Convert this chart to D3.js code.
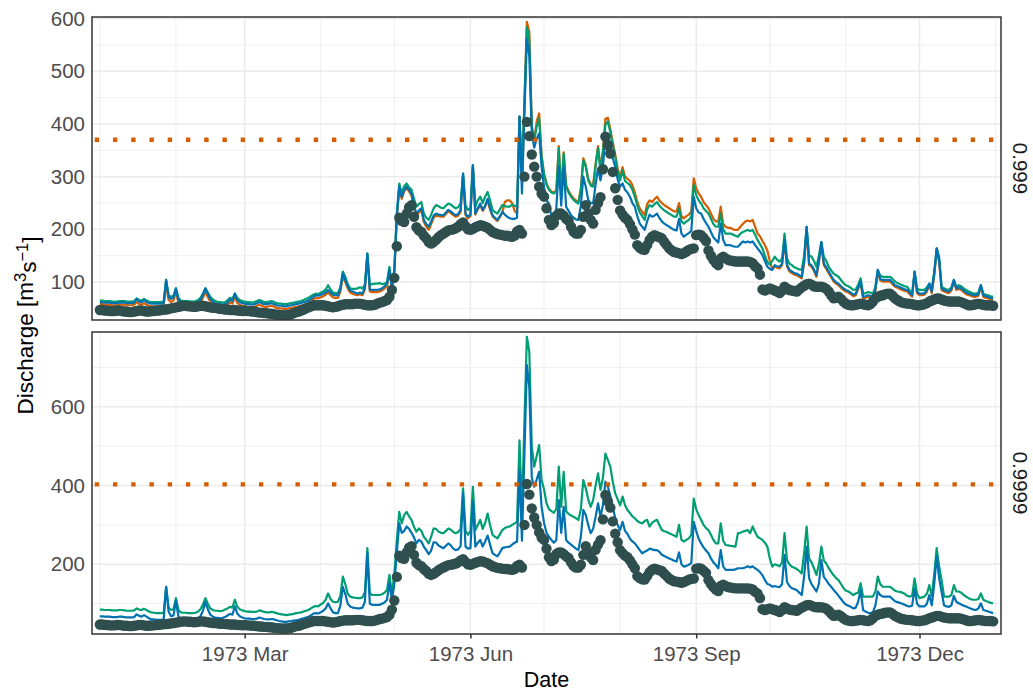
<!DOCTYPE html>
<html>
<head>
<meta charset="utf-8">
<script src="https://cdn.jsdelivr.net/npm/d3@7"></script>
<style>
  html, body { margin: 0; padding: 0; background: #ffffff; }
  svg { display: block; font-family: "Liberation Sans", Arial, Helvetica, sans-serif; }
</style>
</head>
<body>
<svg id="chart" width="1033" height="693"></svg>
<script>
// Daily discharge for 1973 (Jan 1 .. Dec 31), m3/s.
// Observed record, one value per day, written month by month.
const observed = [
  47,47,46,46,45,45,45,46,46,45,44,44,43,43,44,45,46,46,45,44,44,45,45,46,46,47,48,48,49,50,51,            // Jan
  52,53,54,55,55,54,54,53,53,54,55,55,54,53,52,51,51,50,49,49,48,48,47,47,47,46,46,45,                    // Feb
  46,45,45,44,44,43,42,42,41,41,40,40,39,38,38,37,37,37,38,39,41,43,44,46,48,50,52,54,56,56,56,            // Mar
  56,56,55,54,53,52,53,54,56,57,58,58,58,58,59,59,59,58,57,56,56,56,57,59,61,62,64,66,72,85,               // Apr
  108,168,222,216,214,230,242,246,224,204,198,195,188,183,176,173,176,180,185,189,192,195,198,199,200,202,205,210,213,206,200, // May
  199,201,204,206,208,207,205,203,199,195,193,191,190,189,188,188,187,186,188,196,199,192,300,404,377,342,319,300,281,268, // Jun
  262,240,218,208,212,226,230,230,226,220,216,205,196,192,192,199,224,246,230,218,211,237,250,261,314,376,360,344,309,278,256, // Jul
  236,228,222,218,210,200,190,170,165,162,161,170,180,186,189,187,185,183,176,170,164,160,157,156,155,153,155,158,161,163,164, // Aug
  189,190,189,184,178,160,150,142,136,132,145,148,145,142,141,140,139,139,139,139,139,139,138,136,130,126,114,86,84,86, // Sep
  88,86,84,82,79,84,91,88,85,84,83,82,86,90,93,96,97,95,92,91,91,91,90,87,82,75,69,70,72,68,63,            // Oct
  59,57,56,56,57,58,59,58,57,56,58,63,69,72,74,75,77,78,78,74,69,66,63,61,60,59,59,58,57,56,               // Nov
  56,57,58,60,63,65,67,69,69,67,65,64,63,63,63,63,63,62,60,58,56,56,57,58,59,58,57,56,56,56,55             // Dec
];

// Simulated series, quantile 0.999
const simA999 = [ // orange
  58,58,57,57,57,56,56,56,57,57,57,56,56,56,57,62,58,57,60,57,55,54,54,54,54,54,55,98,66,62,65,
  82,60,56,55,55,55,54,54,55,57,61,70,82,71,62,58,55,53,53,52,53,56,62,59,72,60,57,55,
  54,53,53,52,53,55,57,55,53,53,54,55,53,51,50,50,49,49,50,51,52,53,54,55,57,58,60,63,67,70,69,
  71,73,76,80,75,71,70,70,82,112,100,88,80,78,76,75,77,75,86,150,82,81,81,81,82,84,88,92,120,88,
  120,222,278,258,272,278,272,264,240,226,232,236,214,205,199,210,222,226,225,224,224,229,234,231,227,224,226,233,302,227,221,
  225,318,228,238,246,235,243,255,238,225,220,216,223,231,252,255,255,250,235,230,414,290,440,594,575,395,369,405,420,340,
  305,287,277,272,270,274,358,268,346,284,273,265,259,255,252,278,335,322,296,286,284,324,358,316,350,410,412,390,365,342,315,
  300,318,300,296,292,284,270,252,240,233,227,248,255,252,257,262,255,250,246,243,240,237,234,234,250,225,221,225,228,234,297,
  278,268,262,252,246,240,230,220,215,215,243,210,205,203,203,200,199,199,205,210,215,217,215,218,205,192,187,178,170,160,
  140,125,130,127,126,132,178,130,120,117,114,113,110,107,137,200,132,129,121,110,137,172,132,125,117,109,101,97,94,89,85,
  82,80,77,73,75,87,98,69,70,72,71,70,83,120,103,101,101,101,101,96,91,89,87,85,83,82,77,72,117,79,
  75,75,76,82,94,79,112,160,138,85,82,80,79,84,101,85,87,85,81,77,75,74,72,72,74,91,72,70,69,67,66
];
const simB999 = [ // green
  65,65,64,64,64,63,63,63,64,64,64,63,63,63,64,69,66,65,68,65,63,62,62,62,62,62,63,104,75,72,74,
  88,70,65,64,64,64,63,63,64,66,70,78,88,80,72,67,64,62,62,61,62,65,70,68,78,70,66,64,
  63,62,62,61,62,64,66,64,62,62,63,64,62,60,59,59,58,58,59,60,61,62,63,64,66,68,70,73,76,78,77,
  80,82,86,94,86,80,79,79,90,120,110,96,88,87,87,88,90,88,95,154,95,96,97,97,98,96,97,100,129,91,
  123,230,287,268,282,287,280,275,258,243,248,252,230,222,218,228,240,246,244,241,240,245,249,247,243,240,242,250,306,245,237,
  240,322,243,255,262,250,262,271,255,237,233,230,238,246,244,243,243,247,245,243,414,306,440,584,560,395,369,395,410,338,
  305,285,275,270,268,272,354,265,344,281,270,262,256,252,249,275,331,319,293,283,281,320,354,312,345,398,405,385,360,338,310,
  293,312,292,288,284,275,262,245,232,225,218,238,246,243,248,252,245,240,236,233,230,227,224,224,240,215,211,215,218,224,284,
  265,255,249,240,235,230,220,210,205,205,230,200,192,192,192,190,188,186,192,195,197,199,197,199,190,180,172,164,150,138,
  133,140,148,142,139,145,192,145,135,132,128,126,124,123,150,205,151,148,140,129,150,176,148,140,129,122,116,113,110,104,98,
  94,92,89,85,86,95,107,78,79,81,80,78,90,123,112,110,110,110,110,106,101,98,96,94,92,91,84,78,120,88,
  85,85,85,90,97,88,120,164,148,91,88,86,85,90,104,91,94,92,88,85,82,80,78,78,80,94,78,76,75,73,72
];
const simC999 = [ // blue
  62,62,61,61,61,60,60,60,61,61,61,60,60,60,61,68,63,62,66,62,60,59,59,59,59,59,60,104,72,68,71,
  88,66,61,60,60,60,59,59,60,62,66,75,88,77,68,63,60,58,58,57,58,61,67,64,78,66,62,60,
  59,58,58,57,58,60,62,60,58,58,59,60,58,56,55,55,54,54,55,56,57,58,59,60,62,63,65,68,72,75,74,
  76,78,80,85,80,76,75,75,86,116,104,92,84,82,80,78,80,78,90,154,86,85,85,85,86,88,92,96,123,91,
  123,225,281,262,275,281,275,268,245,230,236,240,218,210,205,215,226,230,228,227,227,232,237,234,230,227,229,237,306,230,224,
  228,322,230,240,249,237,245,258,240,227,222,218,225,233,228,224,221,220,220,222,414,268,420,562,530,382,355,372,382,319,
  280,255,249,225,218,240,319,245,320,243,235,227,222,219,218,245,300,281,256,250,249,285,316,293,320,376,382,360,335,319,295,
  281,287,275,270,262,250,243,225,211,205,199,215,228,224,226,230,222,215,211,208,205,202,199,198,220,192,186,190,193,197,262,
  240,232,230,220,212,205,195,185,180,175,211,180,170,170,170,168,167,167,172,177,175,177,175,177,170,164,158,151,140,129,
  125,123,132,130,129,135,180,133,123,120,117,116,113,110,140,205,135,132,124,113,140,176,135,128,120,112,104,100,97,92,88,
  85,83,80,76,78,90,101,72,73,75,74,73,86,123,106,104,104,104,104,99,94,92,90,88,86,85,80,75,120,82,
  78,78,79,85,97,82,115,164,142,88,85,83,82,87,104,88,90,88,84,80,78,77,75,75,77,94,75,73,72,70,69
];

// Simulated series, quantile 0.9999
const simB9999 = [ // green
  85,85,84,84,84,83,83,83,84,84,83,82,82,82,83,88,85,84,87,84,80,78,77,76,76,76,77,143,90,84,86,
  114,84,78,77,77,76,76,76,77,80,86,98,114,100,88,84,82,82,81,82,85,88,92,90,110,92,86,83,
  81,80,80,79,79,80,83,81,79,78,78,79,78,76,74,73,72,71,72,73,74,76,77,78,80,82,84,88,92,94,93,
  98,102,110,126,112,105,104,105,120,169,150,125,118,116,115,114,114,116,130,241,126,122,122,122,122,124,128,135,173,126,
  175,260,333,304,325,333,322,313,295,283,291,285,270,262,253,270,291,290,283,280,279,285,291,288,282,279,282,290,393,285,275,
  285,397,287,300,313,290,305,329,300,275,270,266,276,287,292,295,296,300,304,308,515,330,560,778,740,499,448,475,503,414,
  390,355,340,335,331,340,448,346,435,335,328,324,321,317,313,340,414,393,365,346,363,400,431,389,420,481,465,448,410,380,365,
  350,372,350,338,330,322,317,310,306,304,310,313,296,305,310,313,300,287,284,282,279,276,273,270,300,262,258,262,266,275,367,
  340,325,313,300,292,287,275,262,253,253,304,260,249,248,247,246,245,279,280,283,285,287,279,296,282,270,266,262,255,245,
  215,194,200,198,195,205,279,210,200,194,191,188,183,177,230,296,215,205,190,173,200,245,210,202,190,181,172,165,160,150,140,
  133,131,127,122,126,128,152,118,118,118,118,118,130,169,150,143,143,143,143,138,133,131,130,128,125,120,118,120,164,125,
  114,116,118,125,147,120,175,241,195,160,118,118,118,122,147,131,131,128,122,118,114,111,110,110,112,126,110,107,105,102,101
];
const simC9999 = [ // blue
  68,68,67,67,67,66,66,66,67,67,66,65,65,65,66,73,69,67,71,67,63,60,60,59,59,59,60,143,80,68,70,
  108,68,60,59,59,58,58,58,59,62,68,82,104,86,72,67,65,64,63,64,66,70,74,72,93,75,68,65,
  63,62,62,61,61,62,65,63,61,60,60,61,60,58,56,55,54,54,55,56,57,58,59,61,63,65,67,70,75,76,75,
  78,82,88,101,88,78,76,76,95,143,125,100,93,90,89,88,88,90,105,228,100,97,97,97,97,100,103,110,152,110,
  150,230,304,280,285,296,290,280,268,253,262,258,245,236,226,235,256,255,248,244,241,247,253,248,240,236,238,246,380,245,240,
  241,359,245,255,262,245,258,273,250,228,224,220,230,241,243,244,245,250,255,258,439,260,480,706,650,420,397,415,435,346,
  305,280,270,262,255,262,363,280,346,262,255,250,245,240,236,270,338,325,300,279,290,320,355,321,350,410,397,374,345,318,300,
  287,308,285,277,265,258,253,245,236,228,232,235,240,238,236,236,232,224,221,218,215,212,209,207,230,200,194,196,199,203,308,
  285,265,253,243,235,228,215,205,198,190,236,195,186,186,186,186,187,190,190,190,192,195,192,195,190,186,180,172,160,150,
  148,143,145,143,142,150,224,155,145,139,137,134,128,122,170,245,165,150,140,131,150,211,168,160,150,143,135,128,120,112,104,
  98,95,92,88,90,105,135,84,80,77,76,78,95,131,122,118,118,118,118,112,106,104,102,100,97,94,93,95,139,100,
  93,93,93,100,122,96,150,220,165,130,96,93,92,96,120,105,101,98,95,93,90,87,85,84,88,101,84,82,80,78,76
];

const panelLabels = ["0.999", "0.9999"];
const thresholds = [370, 403];
const yTicksTop = [100, 200, 300, 400, 500, 600];
const yTicksBottom = [200, 400, 600];
const xTickMonths = ["1973-03-01", "1973-06-01", "1973-09-01", "1973-12-01"];

// ---- layout & style ----
const colors = { orange: "#D55E00", green: "#009E73", blue: "#0072B2", obs: "#2F4F4F" };
const plotLeft = 92, plotRight = 1001;

const dates = d3.utcDays(Date.UTC(1973, 0, 1), Date.UTC(1974, 0, 1));
const first = dates[0], last = dates[dates.length - 1];

const x = d3.scaleUtc()
  .domain([d3.utcHour.offset(first, -77), d3.utcHour.offset(last, 77)])
  .range([plotLeft, plotRight]);

const majorMonths = xTickMonths.map(s => new Date(s + "T00:00:00Z"));
const allMonths = d3.utcMonth.range(Date.UTC(1973, 0, 1), Date.UTC(1974, 0, 2));
const minorMonths = allMonths.filter(m => !majorMonths.some(M => +M === +m));

const panels = [
  {
    label: panelLabels[0], top: 17, bottom: 320, domain: [28, 603],
    ticks: yTicksTop, minor: d3.range(50, 600, 100), threshold: thresholds[0],
    series: [[simA999, colors.orange], [simB999, colors.green], [simC999, colors.blue]]
  },
  {
    label: panelLabels[1], top: 332, bottom: 634, domain: [23, 790],
    ticks: yTicksBottom, minor: d3.range(100, 800, 200), threshold: thresholds[1],
    series: [[simB9999, colors.green], [simC9999, colors.blue]]
  }
];

const svg = d3.select("#chart");
svg.append("rect").attr("width", 1033).attr("height", 693).attr("fill", "#ffffff");

panels.forEach((p, i) => {
  const y = d3.scaleLinear().domain(p.domain).range([p.bottom, p.top]);
  const g = svg.append("g");
  const clipId = "clip" + i;
  svg.append("clipPath").attr("id", clipId)
    .append("rect").attr("x", plotLeft).attr("y", p.top)
    .attr("width", plotRight - plotLeft).attr("height", p.bottom - p.top);

  // grid
  const grid = g.append("g").attr("clip-path", `url(#${clipId})`);
  grid.selectAll(".hmin").data(p.minor).join("line")
    .attr("x1", plotLeft).attr("x2", plotRight)
    .attr("y1", d => y(d)).attr("y2", d => y(d))
    .attr("stroke", "#EBEBEB").attr("stroke-width", 0.8);
  grid.selectAll(".vmin").data(minorMonths).join("line")
    .attr("x1", d => x(d)).attr("x2", d => x(d))
    .attr("y1", p.top).attr("y2", p.bottom)
    .attr("stroke", "#EBEBEB").attr("stroke-width", 0.8);
  grid.selectAll(".hmaj").data(p.ticks).join("line")
    .attr("x1", plotLeft).attr("x2", plotRight)
    .attr("y1", d => y(d)).attr("y2", d => y(d))
    .attr("stroke", "#EBEBEB").attr("stroke-width", 1.5);
  grid.selectAll(".vmaj").data(majorMonths).join("line")
    .attr("x1", d => x(d)).attr("x2", d => x(d))
    .attr("y1", p.top).attr("y2", p.bottom)
    .attr("stroke", "#EBEBEB").attr("stroke-width", 1.5);

  // simulated lines
  const marks = g.append("g").attr("clip-path", `url(#${clipId})`);
  const line = d3.line().x((d, k) => x(dates[k])).y(d => y(d));
  p.series.forEach(([vals, col]) => {
    marks.append("path").datum(vals)
      .attr("d", line).attr("fill", "none")
      .attr("stroke", col).attr("stroke-width", 2.2)
      .attr("stroke-linejoin", "round");
  });

  // threshold
  marks.append("line")
    .attr("x1", plotLeft).attr("x2", plotRight)
    .attr("y1", y(p.threshold)).attr("y2", y(p.threshold))
    .attr("stroke", colors.orange).attr("stroke-width", 4.4)
    .attr("stroke-dasharray", "4.4 13.85").attr("stroke-dashoffset", -2.7);

  // observed points
  marks.selectAll("circle").data(observed).join("circle")
    .attr("cx", (d, k) => x(dates[k])).attr("cy", d => y(d))
    .attr("r", 5.2).attr("fill", colors.obs);

  // panel border
  g.append("rect").attr("x", plotLeft).attr("y", p.top)
    .attr("width", plotRight - plotLeft).attr("height", p.bottom - p.top)
    .attr("fill", "none").attr("stroke", "#333333").attr("stroke-width", 1.5);

  // y axis
  const ya = g.append("g").attr("transform", `translate(${plotLeft},0)`)
    .call(d3.axisLeft(y).tickValues(p.ticks).tickSize(0).tickPadding(7));
  ya.select(".domain").remove();
  ya.selectAll("text").attr("fill", "#4D4D4D").style("font-size", "20.5px")
    .style("font-family", '"Liberation Sans", Arial, sans-serif');

  // strip label
  const cy = (p.top + p.bottom) / 2;
  g.append("text")
    .attr("transform", `translate(1012.5,${cy}) rotate(90)`)
    .attr("text-anchor", "middle")
    .attr("fill", "#1A1A1A").style("font-size", "20.5px")
    .text(p.label);

  // x axis on the lower panel
  if (i === panels.length - 1) {
    const xa = g.append("g").attr("transform", `translate(0,${p.bottom})`)
      .call(d3.axisBottom(x).tickValues(majorMonths)
        .tickFormat(d3.utcFormat("%Y %b")).tickSize(4.5).tickPadding(8.3));
    xa.select(".domain").remove();
    xa.selectAll("line").attr("stroke", "#333333").attr("stroke-width", 1.5);
    xa.selectAll("text").attr("fill", "#4D4D4D").style("font-size", "20.5px")
      .style("font-family", '"Liberation Sans", Arial, sans-serif');
  }
});

// axis titles
svg.append("text")
  .attr("x", (plotLeft + plotRight) / 2).attr("y", 687.3)
  .attr("text-anchor", "middle").attr("fill", "#000000")
  .style("font-size", "21.5px").text("Date");

const yTitle = svg.append("text")
  .attr("transform", `translate(33,${(17 + 634) / 2}) rotate(-90)`)
  .attr("text-anchor", "middle").attr("fill", "#000000")
  .style("font-size", "22.5px");
yTitle.append("tspan").text("Discharge [m");
yTitle.append("tspan").attr("dy", "-0.45em").style("font-size", "16.5px").text("3");
yTitle.append("tspan").attr("dy", "0.45em").text("s");
yTitle.append("tspan").attr("dy", "-0.45em").style("font-size", "16.5px").text("\u22121");
yTitle.append("tspan").attr("dy", "0.45em").text("]");
</script>
</body>
</html>
